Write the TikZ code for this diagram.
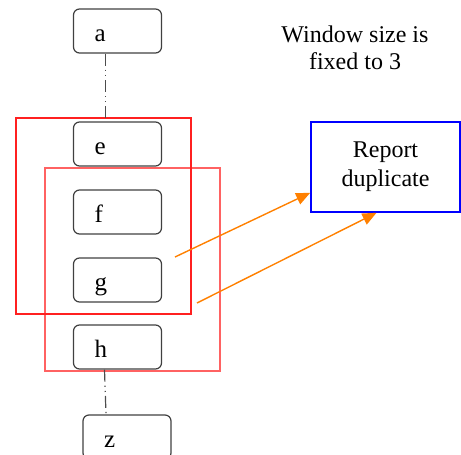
\documentclass[tikz,border=0pt]{standalone}
\usepackage{fontspec}
\setmainfont{Liberation Serif}
\usetikzlibrary{arrows.meta,positioning,calc}
\definecolor{warn}{HTML}{FF8000}
\definecolor{winred}{HTML}{FF2020}
\tikzset{elem/.style={draw=black!75,line width=0.6pt,rounded corners=3pt,minimum height=22pt,text width=23pt,inner xsep=10.5pt,text height=10pt,text depth=0pt,align=left,font=\fontsize{12.5}{14}\selectfont},
window/.style={draw=winred,line width=0.8pt},
report/.style={draw=blue,line width=0.8pt,minimum width=74.5pt,minimum height=45pt,align=center,font=\fontsize{12}{14.5}\selectfont},
link/.style={draw=black!70,line width=0.6pt,dash pattern=on 6pt off 2pt on 0.6pt off 2pt on 0.6pt off 2pt},
flow/.style={draw=warn,line width=0.7pt,-{Triangle[length=7pt,width=6pt]}}}

\begin{document}
\begin{tikzpicture}[x=0.5pt,y=-0.5pt]
\clip (0,0) rectangle (461,455);
\useasboundingbox (0,0) rectangle (461,455);
\foreach \nm/\y in {a/31,e/144,f/212,g/280,h/347}{\node[elem] (\nm) at (117.5,\y) {\nm};}
\node[elem] (z) at (127,437) {z};
\node[report] (rep) at (385.5,167) {Report\\duplicate};
\node[align=center,font=\fontsize{12}{13.5}\selectfont] (note) at (355,48) {Window size is\\fixed to 3};
% the two windows
\draw[window] (16,118) rectangle (191,314);
\draw[window,draw opacity=0.7] (45,168) rectangle (220,371);
\draw[link] ([xshift=-6pt]a.south)--([xshift=-6pt]e.north);
\draw[link] ([xshift=-6.5pt]h.south)--([xshift=-10.5pt]z.north);
\coordinate (g1) at (175,257);
\coordinate (g2) at (197,303);
\draw[flow] (g1)--([yshift=10pt]rep.south west);
\draw[flow] (g2)--([xshift=-4.5pt]rep.south);
\end{tikzpicture}
\end{document}
